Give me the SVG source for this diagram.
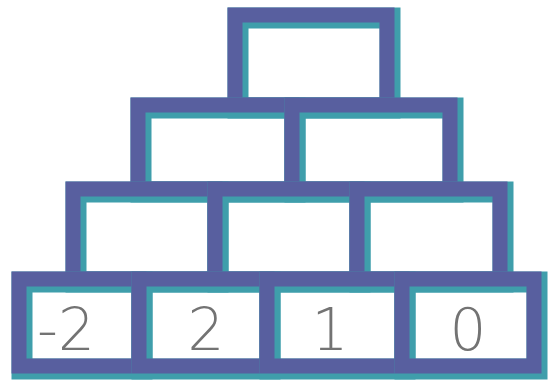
<svg xmlns="http://www.w3.org/2000/svg" width="549" height="383" viewBox="0 0 549 383">
<style>
.t{fill:none;stroke:#3f9eab;stroke-width:21;stroke-linejoin:miter}
.p{fill:none;stroke:#5a5c9e;stroke-width:15;stroke-linejoin:miter;opacity:0.95}
.n{font-family:"DejaVu Sans","Liberation Sans",sans-serif;font-size:58px;font-weight:200;fill:#737373;text-anchor:middle}
</style>
<rect width="549" height="383" fill="#ffffff"/>
<g id="connectors"></g>
<g id="top">
<rect class="t" x="238" y="18" width="152" height="90"/>
<rect class="p" x="235" y="15" width="152" height="90"/>
</g>
<g id="r2c1">
<rect class="t" x="141" y="108" width="154" height="84"/>
<rect class="p" x="138" y="105" width="154" height="84"/>
</g>
<g id="r2c2">
<rect class="t" x="295" y="108" width="158" height="84"/>
<rect class="p" x="292" y="105" width="158" height="84"/>
</g>
<g id="r3c1">
<rect class="t" x="76" y="192" width="142" height="90"/>
<rect class="p" x="73" y="189" width="142" height="90"/>
</g>
<g id="r3c2">
<rect class="t" x="218" y="192" width="142" height="90"/>
<rect class="p" x="215" y="189" width="142" height="90"/>
</g>
<g id="r3c3">
<rect class="t" x="360" y="192" width="143" height="90"/>
<rect class="p" x="357" y="189" width="143" height="90"/>
</g>
<g id="r4c1">
<rect class="t" x="22" y="282" width="120" height="87"/>
<rect class="p" x="19" y="279" width="120" height="87"/>
<text class="n" x="66" y="350">-2</text>
</g>
<g id="r4c2">
<rect class="t" x="142" y="282" width="128" height="87"/>
<rect class="p" x="139" y="279" width="128" height="87"/>
<text class="n" x="206" y="350">2</text>
</g>
<g id="r4c3">
<rect class="t" x="270" y="282" width="135" height="87"/>
<rect class="p" x="267" y="279" width="135" height="87"/>
<text class="n" x="330" y="350">1</text>
</g>
<g id="r4c4">
<rect class="t" x="405" y="282" width="132" height="87"/>
<rect class="p" x="402" y="279" width="132" height="87"/>
<text class="n" x="468" y="350">0</text>
</g>
</svg>
